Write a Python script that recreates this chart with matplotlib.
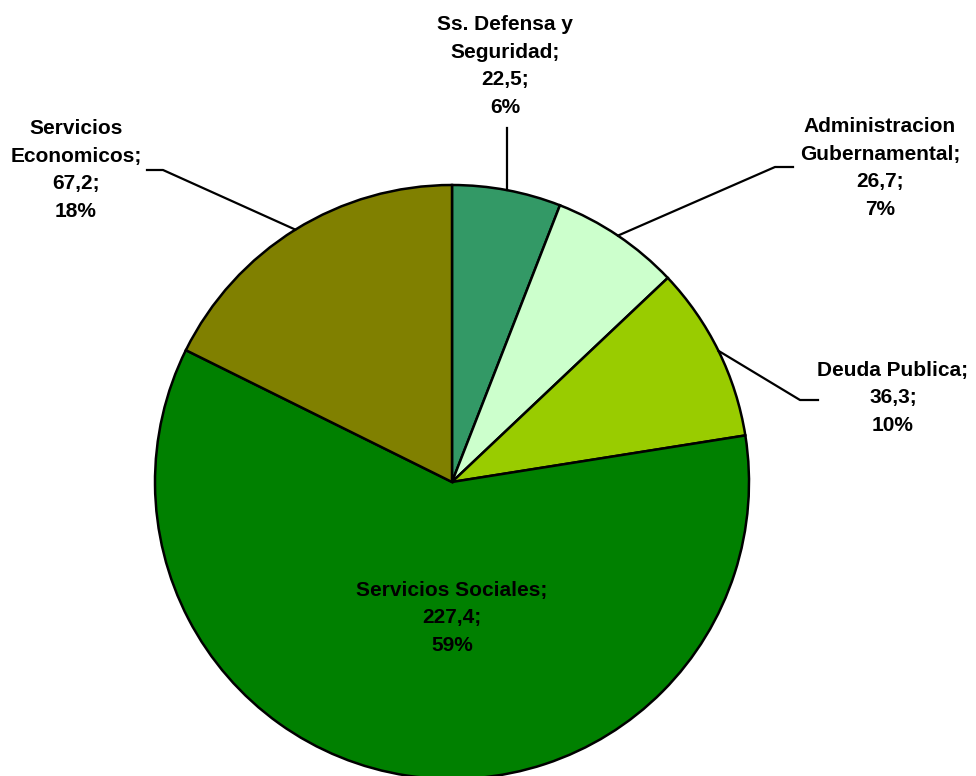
import matplotlib
matplotlib.use("Agg")
import matplotlib.pyplot as plt
import numpy as np

categories = ["Ss. Defensa y\nSeguridad", "Administracion\nGubernamental", "Deuda Publica",
              "Servicios Sociales", "Servicios\nEconomicos"]
values = [22.5, 26.7, 36.3, 227.4, 67.2]
value_labels = ["22,5", "26,7", "36,3", "227,4", "67,2"]
pct_labels = ["6%", "7%", "10%", "59%", "18%"]
colors = ["#339966", "#CCFFCC", "#99CC00", "#008000", "#808000"]

W, H = 976, 776
fig = plt.figure(figsize=(W / 100, H / 100), dpi=100)
ax = fig.add_axes([0, 0, 1, 1])
cx, cy, R = 452, H - 482, 297
wedges, _ = ax.pie(values, colors=colors, startangle=90, counterclock=False,
                   center=(cx, cy), radius=R,
                   wedgeprops=dict(edgecolor="black", linewidth=1.8))
ax.set_xlim(0, W)
ax.set_ylim(0, H)
ax.set_aspect("equal")
ax.axis("off")

# label placement (pixel coords from top) and leader elbows
label_pos = [(505, 66), (880, 168), (893, 398), (452, 618), (76, 170)]
elbows = [None, ((775, 167), (793, 167)), ((800, 400), (818, 400)), "inside", ((163, 170), (147, 170))]

fs = 15
for i, w in enumerate(wedges):
    mid = np.deg2rad((w.theta1 + w.theta2) / 2)
    px, py = cx + R * np.cos(mid), cy + R * np.sin(mid)
    lx, ly = label_pos[i]
    txt = f"{categories[i]};\n{value_labels[i]};\n{pct_labels[i]}"
    ax.text(lx, H - ly, txt, ha="center", va="center", fontsize=fs,
            fontweight="bold", family="Liberation Sans", linespacing=1.56)
    e = elbows[i]
    if e is None:
        ax.plot([px, px], [py, H - 128], color="black", lw=1.6)
    elif e != "inside":
        (ex, ey), (hx, hy) = e
        ax.plot([px, ex, hx], [py, H - ey, H - hy], color="black", lw=1.6)

fig.savefig("out.png", dpi=100)
